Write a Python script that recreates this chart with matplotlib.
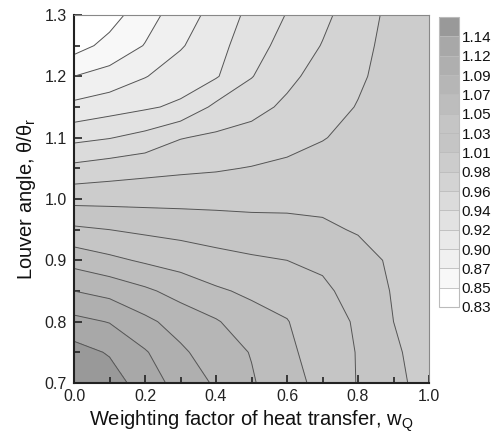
import numpy as np
import matplotlib
matplotlib.use("Agg")
import matplotlib.pyplot as plt
from matplotlib.colors import ListedColormap

plt.rcParams['font.family'] = ['Liberation Sans', 'DejaVu Sans']

# grid
w_q = [0.0, 0.1, 0.2, 0.3, 0.4, 0.5, 0.6, 0.7, 0.8, 0.9, 1.0]
theta = [0.70, 0.75, 0.80, 0.85, 0.90, 0.95, 1.00, 1.05, 1.10, 1.15, 1.20, 1.25, 1.30]

# one row per louver angle, one column per weighting factor
values = [
    [1.173, 1.149, 1.127, 1.108, 1.091, 1.074, 1.059, 1.043, 1.027, 1.012, 0.997],
    [1.147, 1.136, 1.118, 1.098, 1.082, 1.071, 1.055, 1.039, 1.027, 1.009, 0.997],
    [1.122, 1.115, 1.099, 1.085, 1.074, 1.059, 1.051, 1.035, 1.026, 1.006, 0.997],
    [1.094, 1.087, 1.076, 1.064, 1.053, 1.046, 1.041, 1.031, 1.022, 1.004, 0.996],
    [1.064, 1.055, 1.047, 1.041, 1.035, 1.031, 1.028, 1.025, 1.015, 1.002, 0.996],
    [1.032, 1.028, 1.024, 1.021, 1.018, 1.015, 1.013, 1.010, 1.004, 1.001, 0.996],
    [0.999, 0.999, 0.999, 0.999, 0.999, 0.999, 1.000, 1.000, 1.000, 0.999, 0.996],
    [0.968, 0.973, 0.977, 0.980, 0.982, 0.985, 0.988, 0.992, 0.995, 0.997, 0.995],
    [0.934, 0.939, 0.947, 0.961, 0.966, 0.970, 0.977, 0.983, 0.990, 0.995, 0.995],
    [0.902, 0.909, 0.915, 0.922, 0.945, 0.955, 0.966, 0.976, 0.985, 0.994, 0.995],
    [0.874, 0.882, 0.895, 0.907, 0.916, 0.939, 0.957, 0.970, 0.981, 0.992, 0.995],
    [0.843, 0.859, 0.875, 0.894, 0.910, 0.931, 0.948, 0.963, 0.978, 0.991, 0.994],
    [0.832, 0.843, 0.865, 0.885, 0.904, 0.924, 0.941, 0.957, 0.974, 0.990, 0.994],
]

levels = [0.830, 0.852, 0.874, 0.896, 0.918, 0.940, 0.962, 0.984,
          1.006, 1.028, 1.050, 1.072, 1.094, 1.116, 1.138, 1.180]
cbar_labels = ['0.83', '0.85', '0.87', '0.90', '0.92', '0.94', '0.96', '0.98',
               '1.01', '1.03', '1.05', '1.07', '1.09', '1.12', '1.14']

W, T = np.meshgrid(w_q, theta)
Z = np.array(values)

greys = np.linspace(1.0, 0.6, len(levels) - 1)
cmap = ListedColormap([(g, g, g) for g in greys])

fig = plt.figure(figsize=(4.98, 4.33), dpi=100)
ax = fig.add_axes([0.1486, 0.1155, 0.7129, 0.8499])

cf = ax.contourf(W, T, Z, levels=levels, cmap=cmap)
ax.contour(W, T, Z, levels=levels[1:-1], colors='#555555', linewidths=0.7)

ax.set_xlim(0, 1.0)
ax.set_ylim(0.7, 1.3)
ax.set_xticks(np.arange(0, 1.01, 0.2))
ax.set_xticks(np.arange(0.1, 1.0, 0.2), minor=True)
ax.set_yticks(np.arange(0.7, 1.31, 0.1))
ax.set_yticks(np.arange(0.75, 1.3, 0.1), minor=True)
ax.xaxis.set_major_formatter(plt.FormatStrFormatter('%.1f'))
ax.yaxis.set_major_formatter(plt.FormatStrFormatter('%.1f'))
ax.tick_params(which='both', direction='in', top=False, right=False,
               color='#222222', width=1.2, labelsize=11.5, labelcolor='#222222')
ax.tick_params(which='major', length=6)
ax.tick_params(which='minor', length=4)
ax.tick_params(axis='x', pad=4.5)
ax.tick_params(axis='y', pad=5)

for side in ['left', 'bottom']:
    ax.spines[side].set_linewidth(1.5)
    ax.spines[side].set_color('#222222')
for side in ['top', 'right']:
    ax.spines[side].set_linewidth(0.8)
    ax.spines[side].set_color('#888888')

ax.set_xlabel('Weighting factor of heat transfer, w$_\\mathregular{Q}$',
              fontsize=14.5, color='#111111', labelpad=3)
ax.set_ylabel('Louver angle, \u03b8/\u03b8$_\\mathregular{r}$',
              fontsize=14.5, color='#111111', labelpad=5)

cax = fig.add_axes([0.8815, 0.2910, 0.0402, 0.6697])
cbar = fig.colorbar(cf, cax=cax, spacing='uniform', ticks=levels[:-1],
                    drawedges=True)
cbar.ax.set_yticklabels(cbar_labels)
cbar.ax.tick_params(length=0, pad=2, labelsize=11, labelcolor='#111111')
cbar.outline.set_edgecolor('#bbbbbb')
cbar.outline.set_linewidth(0.8)
cbar.dividers.set_color('#bbbbbb')
cbar.dividers.set_linewidth(0.6)

fig.savefig('out.png', dpi=100)
